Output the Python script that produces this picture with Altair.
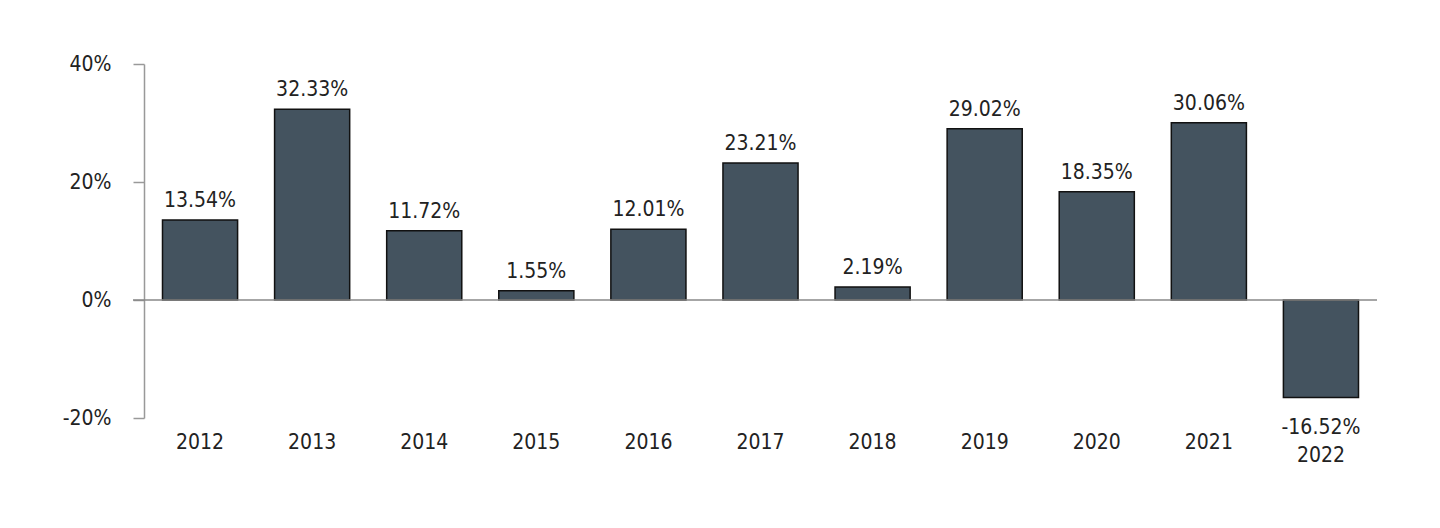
import altair as alt
import pandas as pd

years = ["2012", "2013", "2014", "2015", "2016", "2017", "2018", "2019", "2020", "2021", "2022"]
returns = [13.54, 32.33, 11.72, 1.55, 12.01, 23.21, 2.19, 29.02, 18.35, 30.06, -16.52]
y_ticks = [-20, 0, 20, 40]

df = pd.DataFrame({"year": years, "ret": returns})
df["label"] = [f"{v:.2f}%" for v in returns]

FONT = "Liberation Sans Narrow, DejaVu Sans Condensed, Roboto, sans-serif"
FS = 21
W, H = 1233, 354
BAR = "#44535F"

base = alt.Chart(df)

x = alt.X(
    "year:N",
    sort=years,
    scale=alt.Scale(paddingInner=0.33, paddingOuter=0.165),
    axis=alt.Axis(
        title=None, domain=False, ticks=False, labelAngle=0,
        labelFont=FONT, labelFontSize=FS, labelColor="#222222",
        labelPadding={"condition": {"test": "datum.value == '2022'", "value": 26}, "value": 13},
    ),
)
y = alt.Y(
    "ret:Q",
    scale=alt.Scale(domain=[-20, 40], nice=False),
    axis=alt.Axis(
        title=None, values=y_ticks, grid=False,
        labelExpr="datum.value + '%'",
        domainColor="#999999", domainWidth=1.5,
        tickColor="#999999", tickWidth=1.5, tickSize=11,
        labelFont=FONT, labelFontSize=FS, labelColor="#222222", labelPadding=22,
    ),
)

bars = base.mark_bar(color=BAR, stroke="#111111", strokeWidth=1.5).encode(x=x, y=y)

zero = alt.Chart(pd.DataFrame({"z": [0]})).mark_rule(color="#888888", strokeWidth=1.5).encode(
    y=alt.Y("z:Q"), x=alt.value(-11), x2=alt.value(W)
)

pos_labels = base.transform_filter("datum.ret >= 0").mark_text(
    baseline="bottom", dy=-9, font=FONT, fontSize=FS, color="#222222"
).encode(x=alt.X("year:N", sort=years), y="ret:Q", text="label:N")

neg_labels = base.transform_filter("datum.ret < 0").mark_text(
    baseline="top", dy=20, font=FONT, fontSize=FS, color="#222222"
).encode(x=alt.X("year:N", sort=years), y="ret:Q", text="label:N")

chart = alt.layer(bars, zero, pos_labels, neg_labels).properties(
    width=W, height=H,
    padding={"left": 54, "top": 45, "right": 5, "bottom": 5},
).configure_view(strokeWidth=0)

chart.save("out.html", embed_options={"renderer": "svg", "actions": False})
